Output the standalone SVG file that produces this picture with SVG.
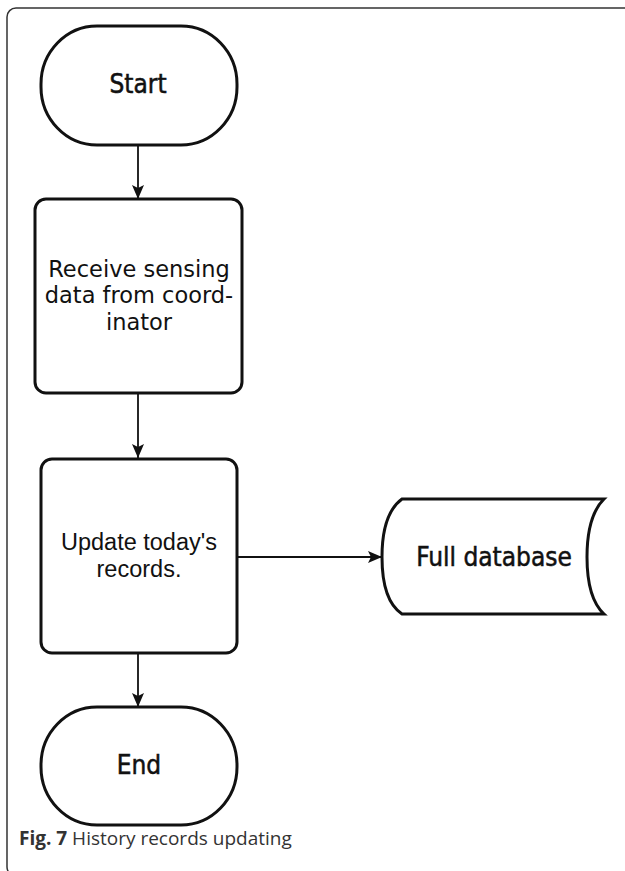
<svg xmlns="http://www.w3.org/2000/svg" width="625" height="871" viewBox="0 0 625 871">
<style>
.shape{fill:#fff;stroke:#111;stroke-width:3}
.conn{stroke:#111;stroke-width:1.8;fill:none}
.term{font-family:"DejaVu Sans Condensed","DejaVu Sans",sans-serif;font-size:26px;fill:#111;stroke:#111;stroke-width:0.5;text-anchor:middle}
.t1{font-family:"DejaVu Sans",sans-serif;font-size:22.5px;fill:#111;text-anchor:middle}
.t2{font-family:"Liberation Sans",Arial,sans-serif;font-size:23.5px;fill:#111;text-anchor:middle}
.cap{font-family:"Open Sans","Noto Sans",sans-serif;font-size:19px;fill:#333}
</style>
<defs>
<marker id="arr" viewBox="0 0 14 12" refX="14" refY="6" markerWidth="14" markerHeight="12" markerUnits="userSpaceOnUse" orient="auto">
<path d="M0,0 L14,6 L0,12 L3,6 Z" fill="#111"/>
</marker>
</defs>
<rect id="frame" x="7" y="8" width="626" height="868" rx="9" fill="none" stroke="#333" stroke-width="1.5"/>
<g id="connectors">
<line class="conn" x1="138" y1="145" x2="138" y2="199" marker-end="url(#arr)"/>
<line class="conn" x1="138" y1="393" x2="138" y2="458" marker-end="url(#arr)"/>
<line class="conn" x1="138" y1="653" x2="138" y2="707" marker-end="url(#arr)"/>
<line class="conn" x1="237" y1="557" x2="382" y2="557" marker-end="url(#arr)"/>
</g>
<g id="start">
<rect class="shape" x="41" y="26" width="196" height="119" rx="56" ry="58"/>
<text class="term" x="138" y="93">Start</text>
</g>
<g id="receive">
<rect class="shape" x="35" y="199" width="207" height="194" rx="11"/>
<text class="t1" x="139" y="277">Receive sensing</text>
<text class="t1" x="139" y="303">data from coord-</text>
<text class="t1" x="139" y="330">inator</text>
</g>
<g id="update">
<rect class="shape" x="41" y="459" width="196" height="194" rx="11"/>
<text class="t2" x="139" y="550">Update today's</text>
<text class="t2" x="139" y="577">records.</text>
</g>
<g id="database">
<path class="shape" d="M402,499 L604,499 C591,512 587,532 587,557 C587,582 591,602 604,614 L402,614 C387,604 382,582 382,557 C382,532 387,510 402,499 Z"/>
<text class="term" x="494" y="566">Full database</text>
</g>
<g id="end">
<rect class="shape" x="41" y="707" width="196" height="118" rx="56" ry="58"/>
<text class="term" x="139" y="774">End</text>
</g>
<text class="cap" x="19" y="845"><tspan font-weight="bold">Fig. 7</tspan> History records updating</text>
</svg>
